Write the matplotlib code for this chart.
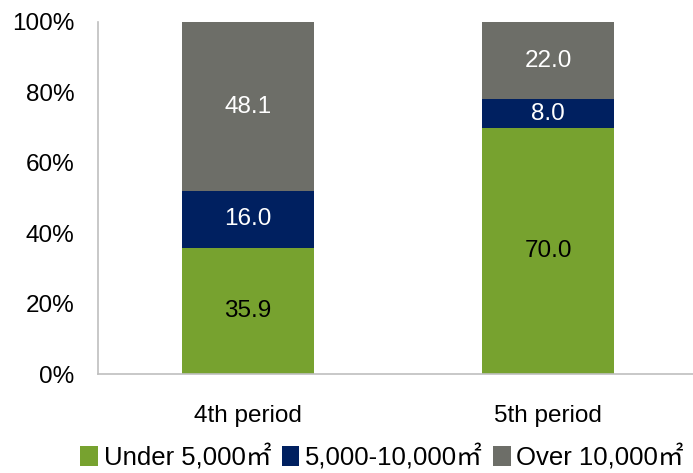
import matplotlib
matplotlib.use('Agg')
import matplotlib.pyplot as plt
from matplotlib.patches import Patch

plt.rcParams['font.family'] = ['Liberation Sans', 'Noto Sans CJK JP', 'DejaVu Sans']

periods = ['4th period', '5th period']
series = ['Under 5,000㎡', '5,000-10,000㎡', 'Over 10,000㎡']
under_5000 = [35.9, 70.0]
mid_5000_10000 = [16.0, 8.0]
over_10000 = [48.1, 22.0]

colors = ['#77A22F', '#002060', '#6D6E68']
text_colors = ['black', 'white', 'white']

fig = plt.figure(figsize=(6.93, 4.73), dpi=100)
ax = fig.add_axes([98 / 693, 99 / 473, 600 / 693, 352 / 473])

x = list(range(len(periods)))
bottom = [0.0, 0.0]
for vals, col, tcol in zip([under_5000, mid_5000_10000, over_10000], colors, text_colors):
    ax.bar(x, vals, width=0.44, bottom=bottom, color=col)
    for xi, b, v in zip(x, bottom, vals):
        ax.text(xi, b + v / 2, '{:.1f}'.format(v), ha='center', va='center',
                fontsize=17.5, color=tcol)
    bottom = [b + v for b, v in zip(bottom, vals)]

ax.set_xlim(-0.5, 1.5)
ax.set_ylim(0, 100)
ax.set_yticks(range(0, 101, 20))
ax.set_yticklabels(['{}%'.format(t) for t in range(0, 101, 20)])
ax.set_xticks(x)
ax.set_xticklabels(periods)
ax.tick_params(length=0, labelsize=17.5)
ax.tick_params(axis='y', pad=17)
ax.tick_params(axis='x', pad=22)

for s in ['top', 'right']:
    ax.spines[s].set_visible(False)
for s in ['left', 'bottom']:
    ax.spines[s].set_color('#BFBFBF')
    ax.spines[s].set_linewidth(1.2)

handles = [Patch(facecolor=c) for c in colors]
fig.legend(handles, series, loc='center', bbox_to_anchor=(382 / 693, 16 / 473), ncol=3,
           frameon=False, fontsize=18.5, handlelength=0.7, handleheight=0.78,
           handletextpad=0.2, columnspacing=0.4, borderpad=0, borderaxespad=0)

fig.savefig('out.png', dpi=100)
